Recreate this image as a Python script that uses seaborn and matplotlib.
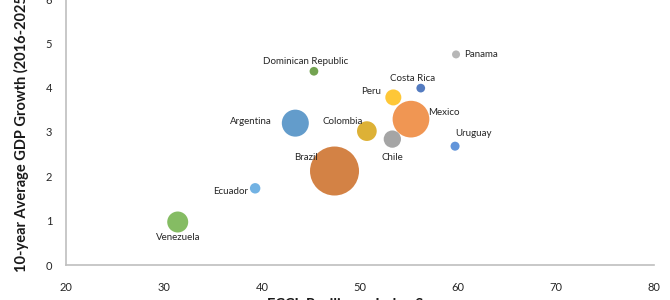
import seaborn as sns
import matplotlib.pyplot as plt
import pandas as pd

countries = ["Venezuela", "Ecuador", "Brazil", "Argentina", "Dominican Republic",
             "Colombia", "Chile", "Peru", "Mexico", "Costa Rica", "Panama", "Uruguay"]
resilience = [31.4, 39.3, 47.4, 43.4, 45.3, 50.7, 53.3, 53.4, 55.2, 56.2, 59.8, 59.7]
gdp_growth = [0.97, 1.73, 2.12, 3.20, 4.37, 3.02, 2.84, 3.78, 3.29, 3.99, 4.75, 2.68]
gdp_bn = [330, 82, 1800, 547, 57, 291, 224, 192, 1010, 57, 48, 61]
colors = ["#7fb95b", "#6aaee2", "#d17b3b", "#5b97c9", "#6b9e47", "#dcad2b",
          "#a0a0a0", "#fec42c", "#f0904a", "#4a74bd", "#b3b3b3", "#5a8fd8"]
# label offsets in points (dx, dy) and alignment
label_pos = {
    "Venezuela": (0, -11, "center"), "Ecuador": (-5, -2, "right"),
    "Brazil": (-12, 10, "right"), "Argentina": (-17, 1, "right"),
    "Dominican Republic": (-6, 7, "center"), "Colombia": (-3, 7, "right"),
    "Chile": (0, -13, "center"), "Peru": (-9, 4, "right"),
    "Mexico": (12, 5, "left"), "Costa Rica": (-6, 7, "center"),
    "Panama": (6, 0, "left"), "Uruguay": (0, 9, "left"),
}

df = pd.DataFrame({"country": countries, "x": resilience, "y": gdp_growth, "gdp": gdp_bn})

sns.set_style("white")
plt.rcParams["font.family"] = ["Lato", "DejaVu Sans"]

fig = plt.figure(figsize=(6.7, 3.0), dpi=100)
ax = fig.add_axes([66 / 670, 35 / 300, 588 / 670, 266 / 300])

sns.scatterplot(data=df, x="x", y="y", hue="country", palette=colors, size="gdp",
                sizes=(0, 1245), size_norm=(0, 1800), linewidth=0, alpha=0.95,
                legend=False, ax=ax, clip_on=False)

for c, x, y in zip(countries, resilience, gdp_growth):
    dx, dy, ha = label_pos[c]
    ax.annotate(c, (x, y), xytext=(dx, dy), textcoords="offset points",
                ha=ha, va="center", fontsize=7, color="#262626")

ax.set_xlim(20, 80)
ax.set_ylim(0, 6)
ax.set_xticks(range(20, 81, 10))
ax.set_yticks(range(0, 7))
ax.tick_params(length=0, labelsize=8, colors="#262626")
ax.tick_params(axis="x", pad=12)
ax.tick_params(axis="y", pad=10)
for s in ["top", "right"]:
    ax.spines[s].set_visible(False)
for s in ["left", "bottom"]:
    ax.spines[s].set_color("#bfbfbf")
    ax.spines[s].set_linewidth(1.2)

ax.set_ylabel("10-year Average GDP Growth (2016-2025)", fontsize=10.5,
              fontweight="bold", color="#1a1a1a", labelpad=12)
ax.set_xlabel("FCCI: Resilience Index Score", fontsize=10.5,
              fontweight="bold", color="#1a1a1a", labelpad=4)

fig.savefig("out.png", dpi=100)
